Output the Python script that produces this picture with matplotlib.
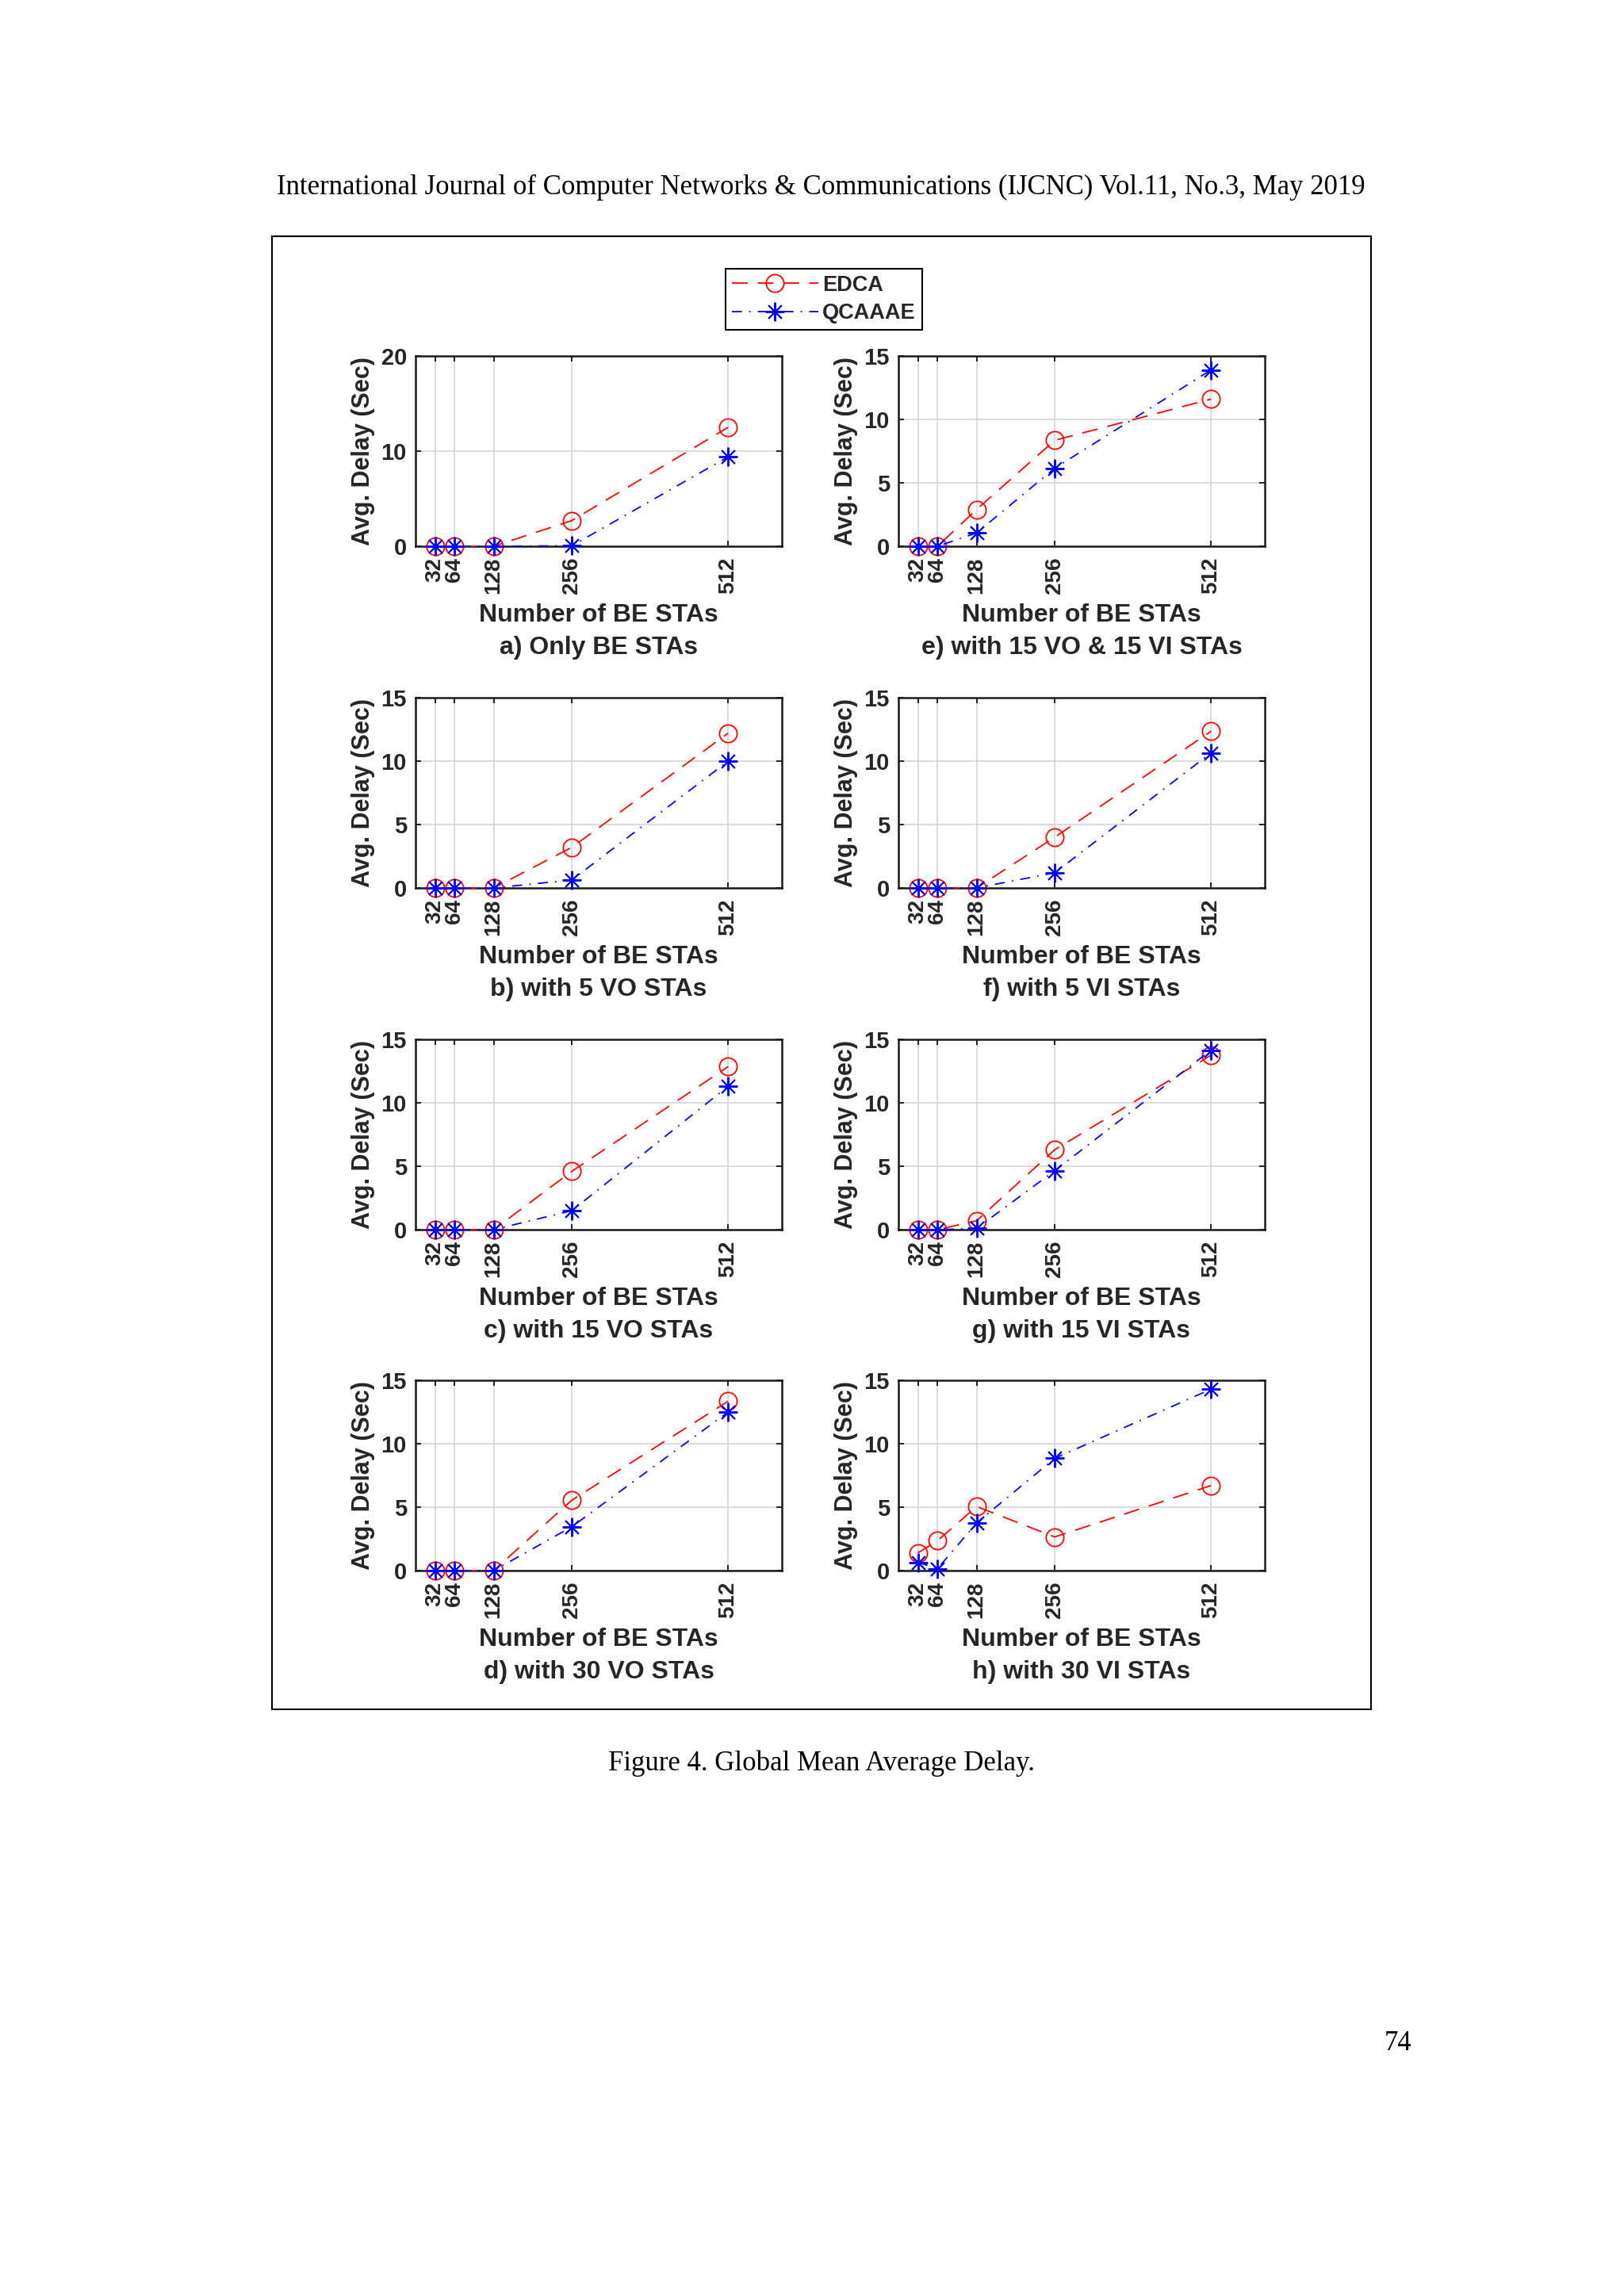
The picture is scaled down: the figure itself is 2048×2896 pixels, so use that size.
import matplotlib
matplotlib.use("Agg")
import matplotlib.pyplot as plt
from matplotlib.patches import Rectangle

# number of BE stations (x axis)
n_sta = [32, 64, 128, 256, 512]
xtick_labels = ["32", "64", "128", "256", "512"]

# average delay (sec)
edca_a = [0, 0, 0, 2.7, 12.5]
qca_a = [0, 0, 0, 0.05, 9.4]
edca_b = [0, 0, 0, 3.2, 12.2]
qca_b = [0, 0, 0, 0.63, 10.0]
edca_c = [0, 0, 0, 4.6, 12.85]
qca_c = [0, 0, 0, 1.5, 11.3]
edca_d = [0, 0, 0, 5.55, 13.35]
qca_d = [0, 0, 0, 3.45, 12.5]
edca_e = [0, 0, 2.9, 8.35, 11.6]
qca_e = [0, 0, 1.05, 6.15, 13.9]
edca_f = [0, 0, 0, 4.0, 12.35]
qca_f = [0, 0, 0, 1.2, 10.65]
edca_g = [0, 0, 0.7, 6.3, 13.75]
qca_g = [0, 0, 0.1, 4.65, 14.15]
edca_h = [1.4, 2.35, 5.05, 2.65, 6.7]
qca_h = [0.65, 0.15, 3.75, 8.85, 14.3]

subtitles = ["a) Only BE STAs", "b) with 5 VO STAs", "c) with 15 VO STAs", "d) with 30 VO STAs",
             "e) with 15 VO & 15 VI STAs", "f) with 5 VI STAs", "g) with 15 VI STAs", "h) with 30 VI STAs"]
edca_all = [edca_a, edca_b, edca_c, edca_d, edca_e, edca_f, edca_g, edca_h]
qca_all = [qca_a, qca_b, qca_c, qca_d, qca_e, qca_f, qca_g, qca_h]
ymax_all = [20, 15, 15, 15, 15, 15, 15, 15]
yticks_all = [[0, 10, 20]] + [[0, 5, 10, 15]] * 7

W, H = 2048, 2896
fig = plt.figure(figsize=(W / 100, H / 100), dpi=100)
fig.patch.set_facecolor("white")

txt = "#262626"
bold = dict(family="Liberation Sans", weight="bold", color=txt)

col_left = [524, 1133]
row_top = [449, 880, 1311, 1741]
aw, ah = 462, 240

axes = []
for i in range(8):
    col, row = divmod(i, 4)
    l, t = col_left[col], row_top[row]
    ax = fig.add_axes([l / W, 1 - (t + ah) / H, aw / W, ah / H])
    ax.plot(n_sta, edca_all[i], color="red", lw=1.3, dashes=(11, 7),
            marker="o", ms=16, mfc="none", mec="red", mew=1.3, clip_on=False, zorder=3)
    ax.plot(n_sta, qca_all[i], color="blue", lw=1.3, dashes=(7, 5, 1, 5),
            marker=(8, 2, 0), ms=17, mec="blue", mew=1.4, clip_on=False, zorder=4)
    ax.set_xlim(0, 600)
    ax.set_ylim(0, ymax_all[i])
    ax.set_xticks(n_sta)
    ax.set_xticklabels(xtick_labels, rotation=90, fontsize=20, **bold)
    ax.set_yticks(yticks_all[i])
    ax.set_yticklabels([str(v) for v in yticks_all[i]], fontsize=21, **bold)
    ax.tick_params(axis="x", direction="in", top=True, length=5, width=1.2, pad=10)
    ax.tick_params(axis="y", direction="in", right=True, length=5, width=1.2, pad=8)
    ax.grid(True, color="#d4d4d4", lw=1.2)
    ax.set_axisbelow(True)
    for s in ax.spines.values():
        s.set_linewidth(1.8)
        s.set_color("#1a1a1a")
    ax.text(-0.143, 0.5, "Avg. Delay (Sec)", transform=ax.transAxes, rotation=90,
            ha="center", va="center", fontsize=22, **bold)
    ax.text(0.5, -0.396, "Number of BE STAs", transform=ax.transAxes,
            ha="center", va="baseline", fontsize=23, **bold)
    ax.text(0.5, -0.567, subtitles[i], transform=ax.transAxes,
            ha="center", va="baseline", fontsize=23, **bold)
    axes.append(ax)

handles = axes[0].get_lines()
leg = fig.legend(handles, ["EDCA", "QCAAAE"], loc="center",
                 bbox_to_anchor=((918 + 1160) / 2 / W, 1 - (338 + 417) / 2 / H),
                 fancybox=False, edgecolor="black", framealpha=1, numpoints=1,
                 handlelength=4.0, handletextpad=0.2, borderpad=0.3, labelspacing=0.35,
                 borderaxespad=0, prop=dict(family="Liberation Sans", weight="bold", size=19.5))
leg.get_frame().set_linewidth(1.5)
for t in leg.get_texts():
    t.set_color(txt)

# page frame around the figure
fig.add_artist(Rectangle((343 / W, 1 - 2156 / H), (1729 - 343) / W, (2156 - 298) / H,
                         transform=fig.transFigure, fill=False, lw=1.5, ec="black"))

serif = dict(family="Liberation Serif", color="black")
fig.text(1035 / W, 1 - 245 / H,
         "International Journal of Computer Networks & Communications (IJCNC) Vol.11, No.3, May 2019",
         ha="center", va="baseline", fontsize=25, **serif)
fig.text(1036 / W, 1 - 2233 / H, "Figure 4. Global Mean Average Delay.",
         ha="center", va="baseline", fontsize=25, **serif)
fig.text(1763 / W, 1 - 2586 / H, "74", ha="center", va="baseline", fontsize=25, **serif)

fig.savefig("out.png", dpi=100)
